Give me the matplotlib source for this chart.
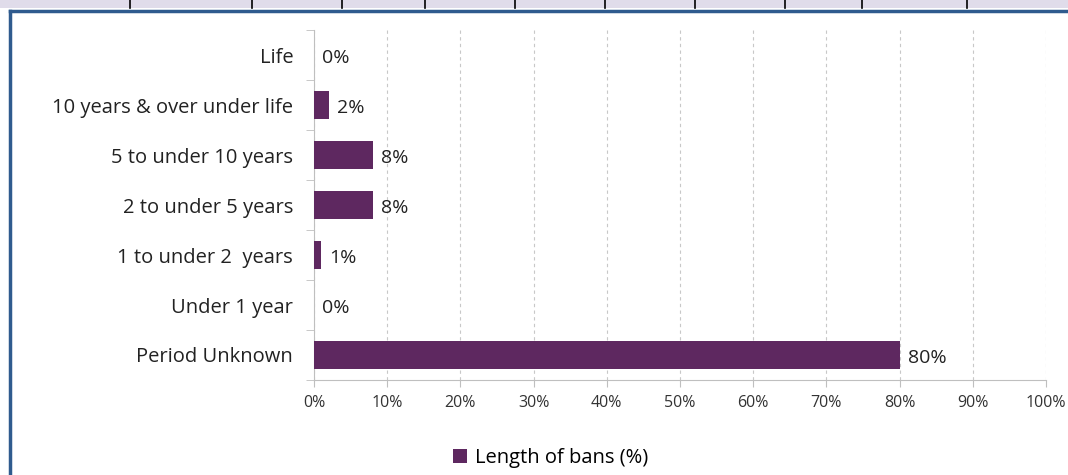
import matplotlib.pyplot as plt
from matplotlib.patches import Rectangle
from matplotlib.lines import Line2D

plt.rcParams['font.family'] = ['Open Sans', 'DejaVu Sans']

categories = ["Life", "10 years & over under life", "5 to under 10 years",
              "2 to under 5 years", "1 to under 2  years", "Under 1 year",
              "Period Unknown"]
values = [0, 2, 8, 8, 1, 0, 80]
xticks = list(range(0, 101, 10))
series_name = "Length of bans (%)"

bar_color = "#5e2860"
border_blue = "#2f5b8e"

fig = plt.figure(figsize=(10.68, 4.75), dpi=100)

# spreadsheet header strip and chart border behind the plot
fig.patches.append(Rectangle((0, 1 - 8 / 475), 1, 8 / 475, transform=fig.transFigure,
                             facecolor="#e0dcea", edgecolor="none", zorder=0))
for px in [130, 252, 342, 425, 515, 605, 695, 785, 862, 967]:
    fig.lines.append(Line2D([px / 1068, px / 1068], [1 - 8 / 475, 1], transform=fig.transFigure,
                            color="black", linewidth=1.2))
fig.lines.append(Line2D([9.5 / 1068, 1], [1 - 11 / 475, 1 - 11 / 475], transform=fig.transFigure,
                        color=border_blue, linewidth=2.5))
fig.lines.append(Line2D([9.5 / 1068, 9.5 / 1068], [0, 1 - 11 / 475], transform=fig.transFigure,
                        color=border_blue, linewidth=2.5))

ax = fig.add_axes([314 / 1068, 1 - 380 / 475, (1046 - 314) / 1068, 350 / 475])

ypos = list(range(len(categories)))
bars = ax.barh(ypos, values, height=0.57, color=bar_color, label=series_name, zorder=3)
ax.set_ylim(len(categories) - 0.5, -0.5)
ax.set_xlim(0, 100)

for y, v in zip(ypos, values):
    ax.annotate(f"{v}%", (v, y), xytext=(6, -2), textcoords="offset points",
                va="center", ha="left", fontsize=14, color="#222222")

ax.set_yticks(ypos)
ax.set_yticklabels(categories, fontsize=14.5, color="#222222")
ax.set_yticks([y + 0.5 for y in range(-1, len(categories))], minor=True)
ax.tick_params(axis="y", which="major", length=0, pad=15)
ax.tick_params(axis="y", which="minor", length=6, color="#bfbfbf", direction="out")

ax.set_xticks(xticks)
ax.set_xticklabels([f"{t}%" for t in xticks], fontsize=11.5, color="#333333")
ax.tick_params(axis="x", length=5, color="#bfbfbf", direction="out", pad=6)

ax.grid(axis="x", linestyle=(0, (3, 3)), color="#c8c8c8", linewidth=0.8, zorder=0)
for s in ["top", "right"]:
    ax.spines[s].set_visible(False)
for s in ["left", "bottom"]:
    ax.spines[s].set_color("#bfbfbf")

handle = Rectangle((0, 0), 1, 1, facecolor=bar_color)
fig.legend([handle], [series_name], loc="center", bbox_to_anchor=(551 / 1068, 1 - 458 / 475),
           frameon=False, fontsize=14.5, handlelength=0.7, handleheight=0.7, handletextpad=0.4)

fig.savefig("out.png", dpi=100)
